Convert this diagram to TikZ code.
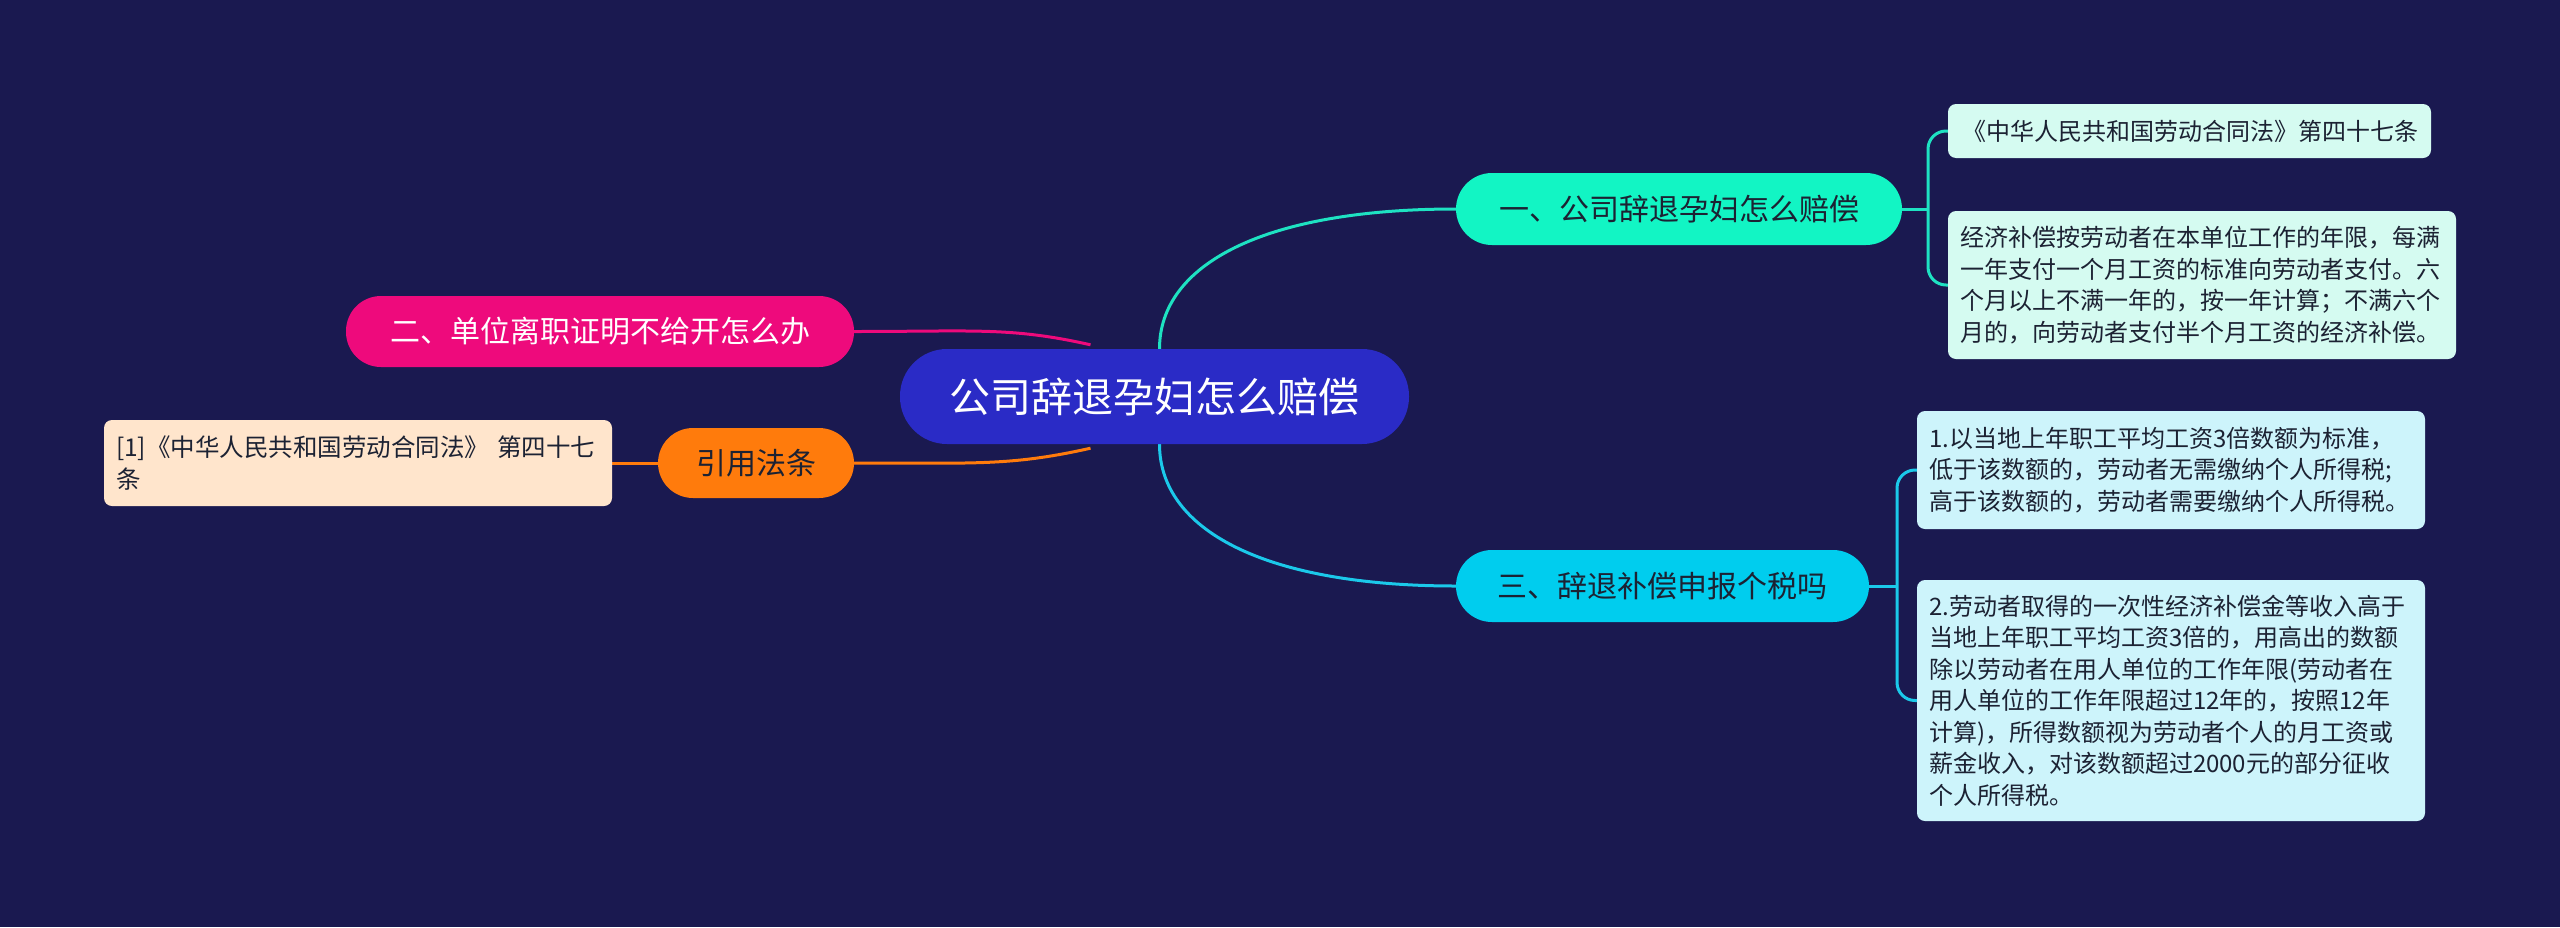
\documentclass[tikz,border=0pt]{standalone}
\usepackage{fontspec}
\setmainfont{Noto Sans CJK SC}
\pgfdeclarelayer{back}
\pgfdeclarelayer{bg}
\pgfsetlayers{back,bg,main}
\definecolor{bgc}{HTML}{1A1950}
\definecolor{rootc}{HTML}{2A2BC6}
\definecolor{onec}{HTML}{12F5C4}
\definecolor{onel}{HTML}{1EE2C2}
\definecolor{threec}{HTML}{00CDEE}
\definecolor{threel}{HTML}{1BC9EA}
\definecolor{twoc}{HTML}{EE0A7C}
\definecolor{fourc}{HTML}{FF7B0C}
\definecolor{leafa}{HTML}{D5FBF1}
\definecolor{leafc}{HTML}{CDF4FB}
\definecolor{leafo}{HTML}{FFE5CC}
\definecolor{txt}{HTML}{1C2233}
\begin{document}
\begin{tikzpicture}[x=1pt,y=-1pt,
  pill/.style={inner sep=0pt, font=\fontsize{30}{36}\selectfont},
  leaf/.style={rounded corners=8pt, inner sep=0pt, align=left, text=txt, font=\fontsize{24}{31.5}\selectfont},
  conn/.style={line width=3pt}]
\begin{pgfonlayer}{back}
\fill[bgc] (0,0) rectangle (2560,927);
\end{pgfonlayer}
\useasboundingbox (0,0) rectangle (2560,927);
% root
\node[pill, fill=rootc, text=white, rounded corners=47pt, minimum width=509pt, minimum height=95pt, font=\fontsize{41}{46}\selectfont] (root) at (1154.5,396.5) {公司辞退孕妇怎么赔偿};
% branches
\node[pill, fill=onec, text=txt, rounded corners=36pt, minimum width=446pt, minimum height=72pt] (b1) at (1679,209) {一、公司辞退孕妇怎么赔偿};
\node[pill, fill=threec, text=txt, rounded corners=36pt, minimum width=413pt, minimum height=72pt] (b3) at (1662.5,586) {三、辞退补偿申报个税吗};
\node[pill, fill=twoc, text=white, rounded corners=35pt, minimum width=508pt, minimum height=71pt] (b2) at (600,331.5) {二、单位离职证明不给开怎么办};
\node[pill, fill=fourc, text=txt, rounded corners=35pt, minimum width=196pt, minimum height=70pt] (b4) at (756,463) {引用法条};
% leaves
\node[leaf, fill=leafa, minimum width=483pt, minimum height=54pt, text width=455pt] (a1) at (2189.5,131) {《中华人民共和国劳动合同法》第四十七条};
\node[leaf, fill=leafa, minimum width=508pt, minimum height=148pt, text width=484pt] (a2) at (2202,285) {经济补偿按劳动者在本单位工作的年限，每满\\一年支付一个月工资的标准向劳动者支付。六\\个月以上不满一年的，按一年计算；不满六个\\月的，向劳动者支付半个月工资的经济补偿。};
\node[leaf, fill=leafc, minimum width=508pt, minimum height=118pt, text width=484pt] (c1) at (2171,470) {1.以当地上年职工平均工资3倍数额为标准，\\低于该数额的，劳动者无需缴纳个人所得税;\\高于该数额的，劳动者需要缴纳个人所得税。};
\node[leaf, fill=leafc, minimum width=508pt, minimum height=241pt, text width=484pt] (c2) at (2171,700.5) {2.劳动者取得的一次性经济补偿金等收入高于\\当地上年职工平均工资3倍的，用高出的数额\\除以劳动者在用人单位的工作年限(劳动者在\\用人单位的工作年限超过12年的，按照12年\\计算)，所得数额视为劳动者个人的月工资或\\薪金收入，对该数额超过2000元的部分征收\\个人所得税。};
\node[leaf, fill=leafo, minimum width=508pt, minimum height=86pt, text width=484pt, font=\fontsize{24.5}{31.5}\selectfont] (cite) at (358,463) {[1]《中华人民共和国劳动合同法》 第四十七\\条};
\coordinate (j1) at (1928,209);
\coordinate (j3) at (1897,586);
\begin{pgfonlayer}{bg}
\draw[conn, onel] ([xshift=5pt]root.north) .. controls +(0,-84) and +(-193,0) .. (b1.west);
\draw[conn, threel] ([xshift=5pt]root.south) .. controls +(0,85) and +(-193,0) .. (b3.west);
\draw[conn, twoc] (b2.east) .. controls +(120,0) and +(-80,-18) .. ([xshift=-64pt,yshift=4pt]root.north);
\draw[conn, fourc] (b4.east) .. controls +(120,0) and +(-80,18) .. ([xshift=-64pt,yshift=-4pt]root.south);
\draw[conn, fourc] (b4.west) -- (cite.east);
\draw[conn, onel] (b1.east) -- (j1);
\draw[conn, onel, rounded corners=18pt] (a1.west) -- (a1.west -| j1) -- (a2.west -| j1) -- (a2.west);
\draw[conn, threel] (b3.east) -- (j3);
\draw[conn, threel, rounded corners=18pt] (c1.west) -- (c1.west -| j3) -- (c2.west -| j3) -- (c2.west);
\end{pgfonlayer}
\end{tikzpicture}
\end{document}
